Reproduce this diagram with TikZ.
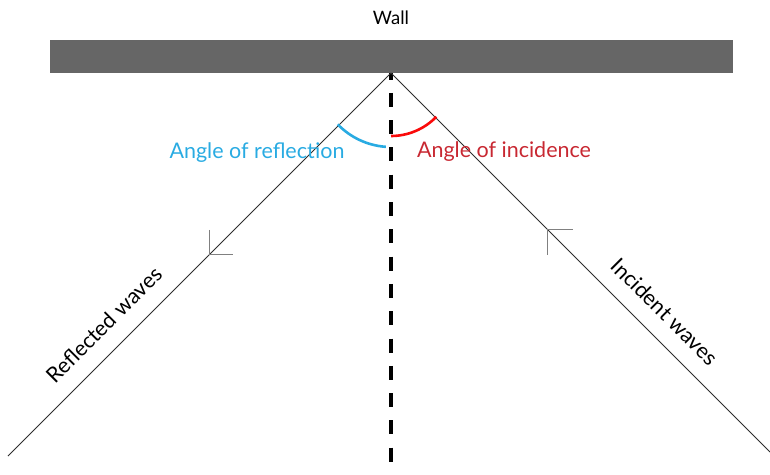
\documentclass[tikz,border=0pt]{standalone}
\usepackage{fontspec}
\setmainfont{Lato}
\usetikzlibrary{calc}
\definecolor{wallgray}{RGB}{102,102,102}
\definecolor{rayblack}{RGB}{45,45,45}
\definecolor{reflblue}{RGB}{41,171,226}
\definecolor{incred}{RGB}{250,10,10}
\definecolor{incredtext}{RGB}{200,40,50}
\tikzset{
  ray/.style={rayblack, line width=0.9pt},
  barb/.style={gray, line width=1pt},
  anglearc/.style={line width=2.6pt},
  lbl/.style={font=\fontsize{21.5}{24}\selectfont, inner sep=0pt}
}

\begin{document}
\begin{tikzpicture}[x=1pt, y=-1pt]
  \useasboundingbox (0,0) rectangle (770,474);
  \coordinate (P) at (391,73);
  \coordinate (L) at (8,456);
  \coordinate (R) at (770,452);
  \coordinate (B) at (391,474);
  % wall
  \fill[wallgray] (50,40) rectangle (733,73);
  \node[font=\fontsize{18.5}{21}\selectfont] (wall) at (391,18) {Wall};
  % normal and rays
  \draw[black, line width=3.2pt, dash pattern=on 14pt off 13.3pt, dash phase=7.5pt] (P) -- (B);
  \draw[ray] (P) -- (L);
  \draw[ray] (P) -- (R);
  % angles
  \draw[anglearc, reflblue] ($(P)+(224:74pt)$) arc[start angle=224, end angle=266, radius=74pt];
  \draw[anglearc, incred] ($(P)+(270:63pt)$) arc[start angle=270, end angle=316, radius=63pt];
  \node[lbl, reflblue] (refl) at (257,153) {Angle of reflection};
  \node[lbl, incredtext] (inc) at (504,152) {Angle of incidence};
  % direction marks
  \coordinate (tl) at ($(P)!0.475!(L)$);
  \coordinate (tr) at ($(P)!0.414!(R)$);
  \draw[barb] ($(tl)+(0,-25)$) -- (tl) -- ($(tl)+(24,0)$);
  \draw[barb] ($(tr)+(0,25)$) -- (tr) -- ($(tr)+(25,0)$);
  \node[lbl, rotate=45] (rw) at (104,325) {Reflected waves};
  \node[lbl, rotate=-45] (iw) at (665,312) {Incident waves};
\end{tikzpicture}
\end{document}
